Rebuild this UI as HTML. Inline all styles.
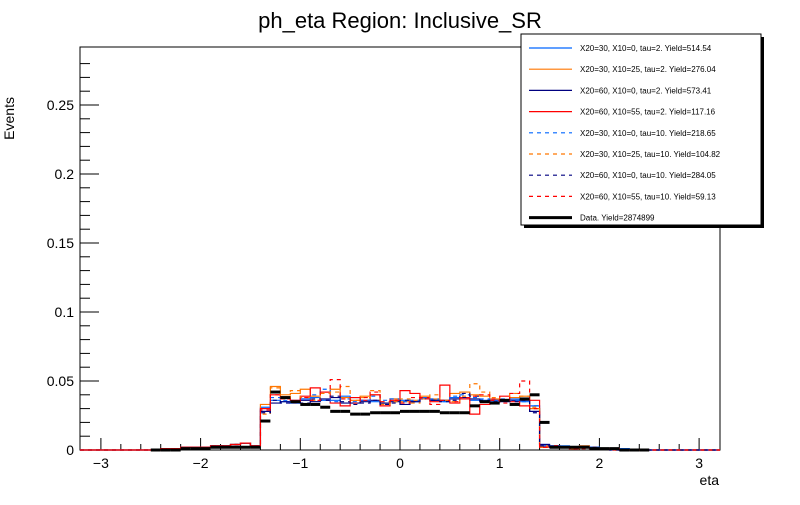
<!DOCTYPE html>
<html><head><meta charset="utf-8"><style>
body{margin:0;background:#fff;width:800px;height:500px;overflow:hidden;font-family:"Liberation Sans",sans-serif}
</style></head><body>
<svg id="c" width="800" height="500" xmlns="http://www.w3.org/2000/svg" style="font-family:'Liberation Sans',sans-serif">
<text x="400" y="28" font-size="22" text-anchor="middle">ph_eta Region: Inclusive_SR</text>
<rect x="80" y="47" width="640" height="403" fill="none" stroke="#000"/>
<g id="axes"></g>
<g id="series"></g>
<text x="719" y="485" font-size="14" text-anchor="end">eta</text>
<text x="14" y="97" font-size="14" transform="rotate(-90 14 97)" text-anchor="end">Events</text>
<g>
<rect x="524" y="37" width="240" height="191" fill="#000"/>
<rect x="521" y="34" width="240" height="191" fill="#fff" stroke="#000"/>
<g id="leg"></g>
</g>
</svg>
<script>
const binStart=-2.5, binW=0.1;
const xTicks=[-3,-2,-1,0,1,2,3];
const yTicks=[0,0.05,0.1,0.15,0.2,0.25];
const tailL=[0,0.001,0.001,0.002,0.002,0.002,0.003,0.003,0.004,0.005,0.003];
const blueS=tailL.concat([0.031,0.036,0.035,0.036,0.037,0.038,0.036,0.036,0.039,0.038,0.036,0.035,0.034,0.037,0.036,0.035,0.037,0.036,0.035,0.038,0.037,0.036,0.036,0.035,0.036,0.037,0.035,0.032],[0.004,0.003,0.003,0.002,0.003,0.002,0.001,0.001,0.001,0,0]);
const orangeS=tailL.concat([0.033,0.046,0.040,0.041,0.044,0.039,0.042,0.044,0.038,0.036,0.039,0.040,0.034,0.037,0.035,0.036,0.039,0.037,0.036,0.041,0.042,0.040,0.039,0.037,0.036,0.038,0.039,0.030],[0.003,0.003,0.002,0.002,0.003,0.002,0.001,0.001,0,0,0]);
const navyS=tailL.concat([0.028,0.034,0.035,0.034,0.036,0.035,0.037,0.038,0.034,0.034,0.035,0.036,0.034,0.035,0.033,0.035,0.037,0.036,0.036,0.037,0.038,0.037,0.035,0.036,0.035,0.036,0.036,0.028],[0.004,0.003,0.002,0.002,0.002,0.002,0.001,0.001,0,0,0]);
const redS=tailL.concat([0.030,0.040,0.038,0.036,0.039,0.045,0.042,0.034,0.032,0.038,0.036,0.040,0.032,0.036,0.043,0.041,0.038,0.035,0.047,0.034,0.037,0.026,0.033,0.036,0.039,0.035,0.032,0.036],[0.002,0.003,0.002,0.001,0.002,0.001,0.001,0.001,0,0,0]);
const blueD=tailL.concat([0.029,0.038,0.036,0.034,0.037,0.040,0.044,0.035,0.037,0.035,0.036,0.039,0.036,0.037,0.035,0.036,0.038,0.037,0.035,0.039,0.040,0.038,0.037,0.036,0.037,0.036,0.035,0.032],[0.003,0.003,0.002,0.002,0.002,0.002,0.001,0,0,0,0]);
const orangeD=tailL.concat([0.026,0.045,0.037,0.043,0.038,0.036,0.041,0.042,0.046,0.036,0.038,0.043,0.033,0.035,0.037,0.034,0.037,0.040,0.036,0.035,0.039,0.048,0.042,0.038,0.036,0.041,0.039,0.031],[0.002,0.002,0.002,0.001,0.002,0.001,0.001,0,0,0,0]);
const navyD=tailL.concat([0.027,0.036,0.034,0.035,0.034,0.037,0.036,0.039,0.035,0.033,0.034,0.036,0.033,0.034,0.036,0.035,0.037,0.036,0.035,0.036,0.041,0.039,0.036,0.035,0.036,0.035,0.036,0.027],[0.003,0.002,0.002,0.002,0.002,0.001,0.001,0,0,0,0]);
const redD=tailL.concat([0.029,0.040,0.037,0.035,0.038,0.036,0.042,0.051,0.037,0.034,0.038,0.042,0.035,0.036,0.034,0.038,0.037,0.033,0.036,0.035,0.038,0.039,0.040,0.037,0.034,0.041,0.050,0.030],[0.002,0.002,0.002,0.001,0.001,0.001,0.001,0,0,0,0]);
const dataV=[0,0,0,0.001,0.001,0.001,0.002,0.002,0.002,0.002,0.002,0.021,0.042,0.038,0.035,0.033,0.033,0.031,0.028,0.028,0.026,0.026,0.027,0.027,0.027,0.028,0.028,0.028,0.028,0.027,0.027,0.027,0.032,0.035,0.034,0.036,0.033,0.037,0.040,0.020,0.002,0.002,0.002,0.002,0.001,0.001,0.001,0,0,0];
const series=[
{name:"X20=30, X10=0, tau=2. Yield=514.54",v:blueS,c:"#0066ff",d:""},
{name:"X20=30, X10=25, tau=2. Yield=276.04",v:orangeS,c:"#ff7700",d:""},
{name:"X20=60, X10=0, tau=2. Yield=573.41",v:navyS,c:"#000080",d:""},
{name:"X20=60, X10=55, tau=2. Yield=117.16",v:redS,c:"#ff0000",d:""},
{name:"X20=30, X10=0, tau=10. Yield=218.65",v:blueD,c:"#0066ff",d:"4,4"},
{name:"X20=30, X10=25, tau=10. Yield=104.82",v:orangeD,c:"#ff7700",d:"4,4"},
{name:"X20=60, X10=0, tau=10. Yield=284.05",v:navyD,c:"#000080",d:"4,4"},
{name:"X20=60, X10=55, tau=10. Yield=59.13",v:redD,c:"#ff0000",d:"4,4"}];
const X=v=>400+v*99.7, Y=v=>450-v*1380;
const NS="http://www.w3.org/2000/svg";
function mk(t,a,p){const e=document.createElementNS(NS,t);for(const k in a)e.setAttribute(k,a[k]);p.appendChild(e);return e;}
const ax=document.getElementById('axes');
for(let t=-3;t<=3.001;t+=0.2){const big=Math.abs(t-Math.round(t))<1e-6;const l=mk('line',{x1:X(t),x2:X(t),y1:450,y2:big?438:444,stroke:'#000'},ax);}
xTicks.forEach(t=>{const e=mk('text',{x:X(t),y:468,'font-size':14,'text-anchor':'middle'},ax);e.textContent=t===0?'0':(t<0?'\u2212'+(-t):t);});
for(let t=0;t<=0.2851;t+=0.01){const big=Math.round(t*100)%5===0;const l=mk('line',{x1:80,x2:big?99:90,y1:Y(t),y2:Y(t),stroke:'#000'},ax);}
yTicks.forEach(t=>{const e=mk('text',{x:74,y:Y(t)+5,'font-size':14,'text-anchor':'end'},ax);e.textContent=String(t);});
const sg=document.getElementById('series');
series.forEach((s,k)=>{let d='M80,450 L'+X(binStart)+',450';s.v.forEach((v,i)=>{const x0=X(binStart+i*binW),x1=X(binStart+(i+1)*binW);d+=' L'+x0+','+Y(v)+' L'+x1+','+Y(v);});d+=' L'+X(binStart+s.v.length*binW)+',450 L720,450';
const p=mk('path',{d:d,fill:'none',stroke:s.c,'stroke-width':1.2,'stroke-dasharray':s.d},sg);});
dataV.forEach((v,i)=>{const x0=X(binStart+i*binW),x1=X(binStart+(i+1)*binW);const l=mk('line',{x1:x0,x2:x1,y1:Y(v),y2:Y(v),stroke:'#000','stroke-width':3},sg);});
const lg=document.getElementById('leg');
series.concat([{name:"Data. Yield=2874899",c:"#000",d:"",w:3}]).forEach((s,k)=>{const y=48+k*21.2;const l=mk('line',{x1:529,x2:572,y1:y,y2:y,stroke:s.c,'stroke-width':s.w||1.2,'stroke-dasharray':s.d},lg);const t=mk('text',{x:580,y:y+3,'font-size':8},lg);t.textContent=s.name;});
</script>
</body></html>
